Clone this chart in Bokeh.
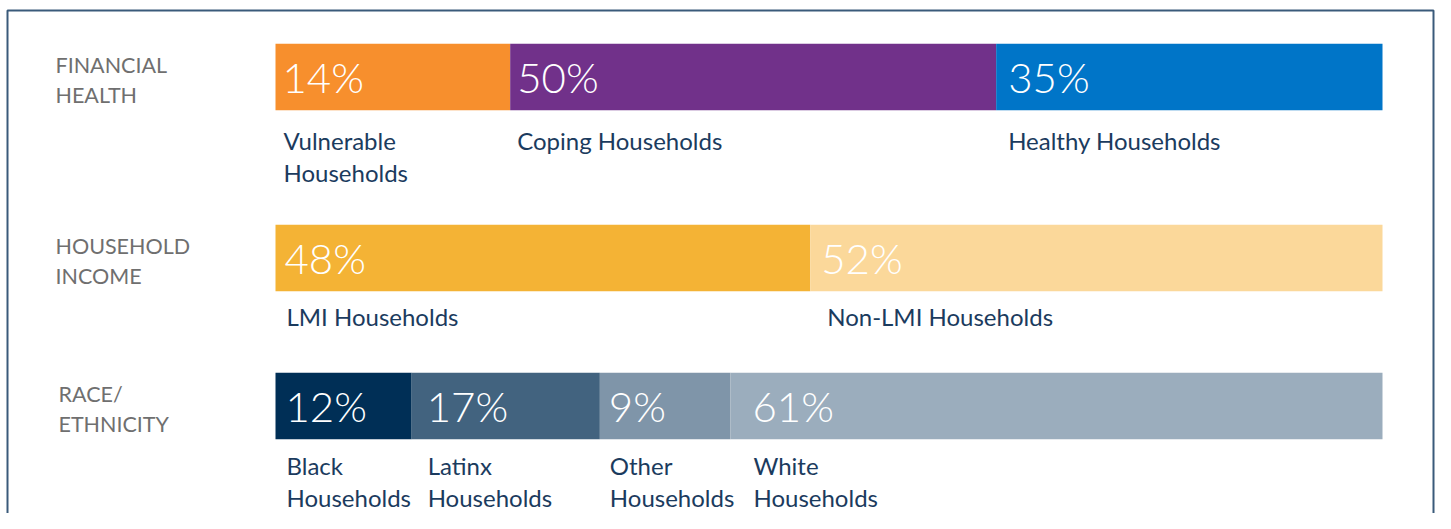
from bokeh.plotting import figure
from bokeh.models import ColumnDataSource, Range1d
from bokeh.core.properties import value
from bokeh.embed import file_html
from bokeh.resources import INLINE

# ---------------- data ----------------
row_titles = [["FINANCIAL", "HEALTH"], ["HOUSEHOLD", "INCOME"], ["RACE/", "ETHNICITY"]]

fin_pct = ["14%", "50%", "35%"]
fin_share = [21.2, 43.9, 34.9]          # segment lengths as drawn (share of bar)
fin_names = ["Vulnerable\nHouseholds", "Coping Households", "Healthy Households"]

inc_pct = ["48%", "52%"]
inc_share = [48.3, 51.7]
inc_names = ["LMI Households", "Non-LMI Households"]

race_pct = ["12%", "17%", "9%", "61%"]
race_share = [12.3, 17.0, 11.8, 58.9]
race_names = ["Black\nHouseholds", "Latinx\nHouseholds", "Other\nHouseholds", "White\nHouseholds"]

# ---------------- styles ----------------
fin_colors = ["#F78F2D", "#71318A", "#0075C8"]
inc_colors = ["#F4B335", "#FBD89A"]
race_colors = ["#002F56", "#42637F", "#7F95A9", "#9BADBD"]
NAVY = "#1B3B5E"
GREY = "#6F6F6F"
FRAME = "#3A5A7A"

PCT_FS = 42
NAME_FS = 24
TITLE_FS = 21.5
BASE_CORR = 0.4   # renderer places alphabetic baseline ~0.4em low

# label indents (px) from each segment's left edge
pct_dx = [[7, 7, 12], [9, 11], [10, 15, 9, 22]]
name_dx = [[8, 7, 12], [11, 17], [11, 16, 10, 23]]

# ---------------- layout (canvas pixels, y downward) ----------------
W, H = 1435, 513
BAR_L, BAR_R = 275, 1382
ROW_TOP = [43.3, 224.3, 372.3]
BAR_H = 66.5
NAME_GAP = [40.2, 35.2, 36.2]     # bar bottom -> first baseline of segment names
LINE_SP = 32
TITLE_X = [55, 55, 58]

x_per_px = 100.0 / (BAR_R - BAR_L)
x0 = -BAR_L * x_per_px
x1 = x0 + W * x_per_px


def px2x(px):
    return x0 + px * x_per_px


p = figure(width=W, height=H, x_range=Range1d(x0, x1), y_range=Range1d(H, 0),
           output_backend="svg", toolbar_location=None, min_border=0,
           x_axis_location=None, y_axis_location=None)
p.grid.visible = False
p.outline_line_color = None
p.background_fill_color = "white"
p.border_fill_color = "white"

# frame (open at the bottom)
p.line(x=[px2x(7), px2x(7), px2x(1433), px2x(1433)], y=[H + 5, 10, 10, H + 5],
       line_color=FRAME, line_width=2)

rows = [
    (fin_pct, fin_share, fin_names, fin_colors),
    (inc_pct, inc_share, inc_names, inc_colors),
    (race_pct, race_share, race_names, race_colors),
]

for r, (pcts, shares, names, colors) in enumerate(rows):
    top = ROW_TOP[r]
    center = top + BAR_H / 2
    bottom = top + BAR_H
    lefts, rights = [], []
    acc = 0.0
    for s in shares:
        lefts.append(acc)
        acc += s
        rights.append(acc)
    src = ColumnDataSource(dict(left=lefts, right=rights, y=[center] * len(shares),
                                color=colors, pct=pcts, dx=pct_dx[r],
                                pct_y=[top + 50 - BASE_CORR * PCT_FS] * len(shares)))
    p.hbar(y="y", left="left", right="right", height=BAR_H, fill_color="color",
           line_color=None, source=src)
    p.text(x="left", y="pct_y", text="pct", source=src, x_offset="dx",
           text_color="white", text_font=value("Lato"),
           text_font_size=value("300 %gpx" % PCT_FS), text_baseline="alphabetic",
           text_align="left")

    # segment names, one text per line
    nx, ny, nt, nd = [], [], [], []
    for left, name, dx in zip(lefts, names, name_dx[r]):
        for i, line in enumerate(name.split("\n")):
            nx.append(left)
            ny.append(bottom + NAME_GAP[r] + i * LINE_SP - BASE_CORR * NAME_FS)
            nt.append(line)
            nd.append(dx)
    nsrc = ColumnDataSource(dict(x=nx, y=ny, text=nt, dx=nd))
    p.text(x="x", y="y", text="text", x_offset="dx", source=nsrc, text_color=NAVY,
           text_font=value("Lato"), text_font_size="%gpx" % NAME_FS,
           text_baseline="alphabetic", text_align="left")

    # row titles
    tx = [px2x(TITLE_X[r])] * 2
    ty = [top + 30 - BASE_CORR * TITLE_FS, top + 59.5 - BASE_CORR * TITLE_FS]
    p.text(x=tx, y=ty, text=row_titles[r], text_color=GREY,
           text_font=value("Lato"), text_font_size="%gpx" % TITLE_FS,
           text_baseline="alphabetic", text_align="left")

open("out.html", "w").write(file_html(p, INLINE))
